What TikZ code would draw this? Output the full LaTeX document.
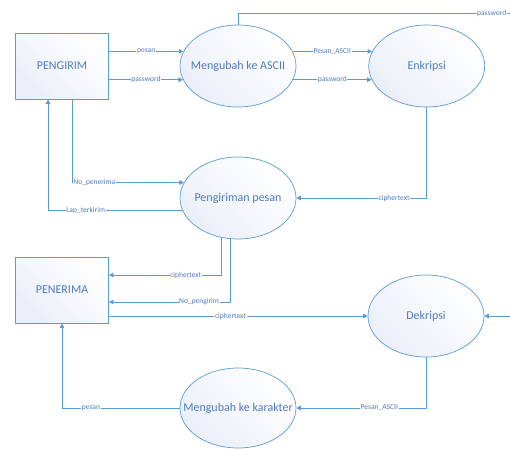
\documentclass[tikz,border=0pt]{standalone}
\usepackage{fontspec}
\setmainfont{Carlito}
\usetikzlibrary{shapes.geometric, arrows.meta, positioning}
\definecolor{dfdline}{RGB}{91,155,213}
\definecolor{dfdtext}{RGB}{79,122,189}
\definecolor{dfdfill}{RGB}{234,239,248}
\newcommand{\ptext}[1]{\makebox[0pt]{#1}}

\begin{document}
\begin{tikzpicture}[
  x=1pt, y=-1pt,
  font=\fontsize{12}{14}\selectfont,
  >={Triangle[length=4.5pt,width=4.5pt]},
  ent/.style={rectangle, draw=dfdline, line width=0.8pt, top color=white, bottom color=dfdfill, shading angle=-45, text=dfdtext, minimum width=93pt, minimum height=66pt, inner sep=0pt},
  proc/.style={ellipse, draw=dfdline, line width=0.7pt, top color=white, bottom color=dfdfill, shading angle=-45, text=dfdtext, minimum width=116pt, minimum height=82pt, inner sep=0pt},
  lbl/.style={fill=white, inner sep=0.6pt, text=dfdtext, font=\fontsize{7.5}{8}\selectfont},
  flowline/.style={line width=1pt, dfdline},
  a/.style={->, flowline},
  node distance=72pt,
]
\useasboundingbox (0,0) rectangle (510,448);
\clip (0,0) rectangle (510,448);
\node[ent] (pengirim) at (62,66) {PENGIRIM};
\node[proc] (ascii) at (238,66) {\ptext{Mengubah ke ASCII}};
\node[proc, right=of ascii] (enkripsi) {\ptext{Enkripsi}};
\node[proc] (kirim) at (238,198) {\ptext{Pengiriman pesan}};
\node[ent] (penerima) at (62,290) {PENERIMA};
\node[proc] (dekripsi) at (426,316) {\ptext{Dekripsi}};
\node[proc, minimum height=80pt] (karakter) at (238,408) {\ptext{Mengubah ke karakter}};
\coordinate (pwout) at (515,13);
\coordinate (pwin) at (515,316);
% arrows
\draw[a] (pengirim.east |- ascii.165) -- node[lbl]{pesan} (ascii.165);
\draw[a] (pengirim.east |- ascii.194) -- node[lbl]{password} (ascii.194);
\draw[a] (ascii.15) -- node[lbl]{Pesan\_ASCII} (enkripsi.165);
\draw[a] (ascii.346) -- node[lbl]{password} (enkripsi.194);
\draw[flowline] (ascii.north) |- node[lbl, pos=0.958]{password} (pwout);
\draw[a] ([xshift=10pt]pengirim.south) |- node[lbl, pos=0.6]{No\_penerima} (kirim.164);
\draw[a] (kirim.193) -| node[lbl, pos=0.36]{Lap\_terkirim} ([xshift=-14pt]pengirim.south);
\draw[a] (enkripsi.south) |- node[lbl, pos=0.625]{ciphertext} (kirim.east);
\draw[a] (kirim.248) |- node[lbl, pos=0.66]{ciphertext} ([yshift=15pt]penerima.east);
\draw[a] (kirim.260) |- node[lbl, pos=0.63]{No\_pengirim} ([yshift=-12pt]penerima.east);
\draw[a] (penerima.east |- dekripsi.west) -- node[lbl, pos=0.47]{ciphertext} (dekripsi.west);
\draw[a] (pwin) -- (dekripsi.east);
\draw[a] (dekripsi.south) |- node[lbl, pos=0.68]{Pesan\_ASCII} (karakter.east);
\draw[a] (karakter.west) -| node[lbl, pos=0.377]{pesan} (penerima.south);
\end{tikzpicture}
\end{document}
